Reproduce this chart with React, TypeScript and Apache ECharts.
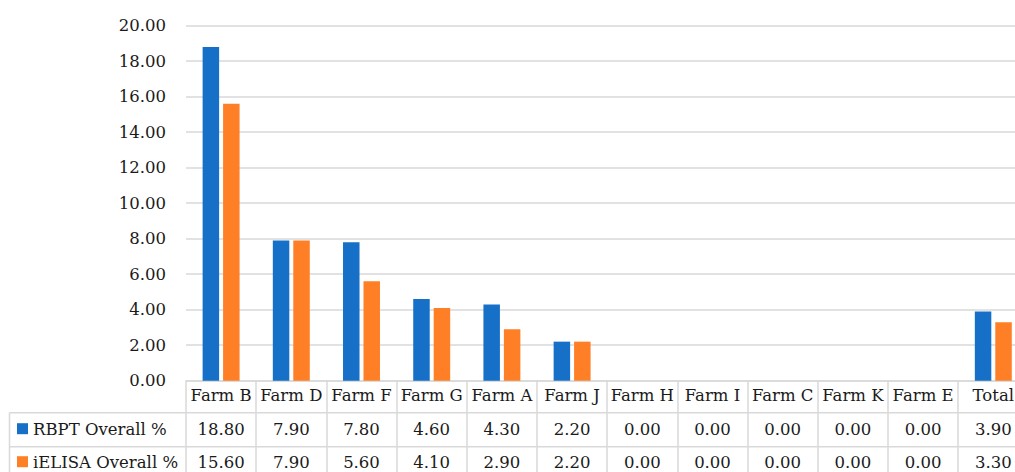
import React, { useEffect, useRef } from "react";
import * as echarts from "echarts";

const categories = ["Farm B", "Farm D", "Farm F", "Farm G", "Farm A", "Farm J", "Farm H", "Farm I", "Farm C", "Farm K", "Farm E", "Total"];
const rbptValues = [18.8, 7.9, 7.8, 4.6, 4.3, 2.2, 0, 0, 0, 0, 0, 3.9];
const ielisaValues = [15.6, 7.9, 5.6, 4.1, 2.9, 2.2, 0, 0, 0, 0, 0, 3.3];
const seriesNames = ["RBPT Overall %", "iELISA Overall %"];
const yMin = 0;
const yMax = 20;
const yInterval = 2;

const BLUE = "#1670C8";
const ORANGE = "#FF7F27";
const GRID = "#d9d9d9";
const TEXT = "#1a1a1a";
const FONT = "DejaVu Serif";
const FS = 16.5;

export default function App() {
  const ref = useRef<HTMLDivElement>(null);
  useEffect(() => {
    if (!ref.current) return;
    const chart = echarts.init(ref.current, null, { renderer: "svg" });
    const W = 1040;
    const H = 472;
    chart.setOption({
      animation: false,
      backgroundColor: "#ffffff",
      grid: { left: 186, top: 25.7, width: 842.4, height: 355, containLabel: false },
      xAxis: {
        type: "category",
        data: categories,
        axisLine: { show: true, lineStyle: { color: GRID, width: 1.5 } },
        axisTick: { show: true, interval: 0, length: 95, lineStyle: { color: GRID, width: 1.5 } },
        axisLabel: { interval: 0, margin: 6.5, color: TEXT, fontFamily: FONT, fontSize: FS },
      },
      yAxis: {
        type: "value",
        min: yMin,
        max: yMax,
        interval: yInterval,
        axisLine: { show: false },
        axisTick: { show: false },
        splitLine: { lineStyle: { color: GRID, width: 1.5 } },
        axisLabel: {
          margin: 20,
          color: TEXT,
          fontFamily: FONT,
          fontSize: FS,
          formatter: (v: number) => v.toFixed(2),
        },
      },
      series: [
        {
          name: seriesNames[0],
          type: "bar",
          data: rbptValues,
          barWidth: 16.5,
          barGap: "24%",
          itemStyle: { color: BLUE },
        },
        {
          name: seriesNames[1],
          type: "bar",
          data: ielisaValues,
          barWidth: 16.5,
          barGap: "24%",
          itemStyle: { color: ORANGE },
        },
      ],
    });

    const xs = categories.map((c) => chart.convertToPixel({ xAxisIndex: 0 }, c) as number);
    const y0 = chart.convertToPixel({ yAxisIndex: 0 }, 0) as number;
    const line1 = y0 + 32;
    const line2 = y0 + 66;
    const rowCenters = [y0 + 48.5, y0 + 81.5];
    const rows = [rbptValues, ielisaValues];
    const colors = [BLUE, ORANGE];
    const lineStyle = { stroke: GRID, lineWidth: 1.5 };

    const elements: any[] = [
      { type: "line", shape: { x1: 9.5, y1: line1, x2: W, y2: line1 }, style: lineStyle, silent: true },
      { type: "line", shape: { x1: 9.5, y1: line2, x2: W, y2: line2 }, style: lineStyle, silent: true },
      { type: "line", shape: { x1: 9.5, y1: line1, x2: 9.5, y2: H }, style: lineStyle, silent: true },
    ];
    rows.forEach((vals, r) => {
      const cy = rowCenters[r];
      elements.push({
        type: "rect",
        shape: { x: 17, y: cy - 6, width: 11, height: 11 },
        style: { fill: colors[r] },
        silent: true,
      });
      elements.push({
        type: "text",
        x: 33,
        y: cy,
        style: {
          text: seriesNames[r],
          fill: TEXT,
          font: `${FS}px "${FONT}"`,
          align: "left",
          verticalAlign: "middle",
        },
        silent: true,
      });
      vals.forEach((v, i) => {
        elements.push({
          type: "text",
          x: xs[i],
          y: cy,
          style: {
            text: v.toFixed(2),
            fill: TEXT,
            font: `${FS}px "${FONT}"`,
            align: "center",
            verticalAlign: "middle",
          },
          silent: true,
        });
      });
    });
    chart.setOption({ graphic: elements });
    return () => chart.dispose();
  }, []);
  return (
    <div style={{ position: "fixed", left: 0, top: 0, width: 1015, height: 472, overflow: "hidden", background: "#fff" }}>
      <div ref={ref} style={{ width: 1040, height: 472 }} />
    </div>
  );
}
